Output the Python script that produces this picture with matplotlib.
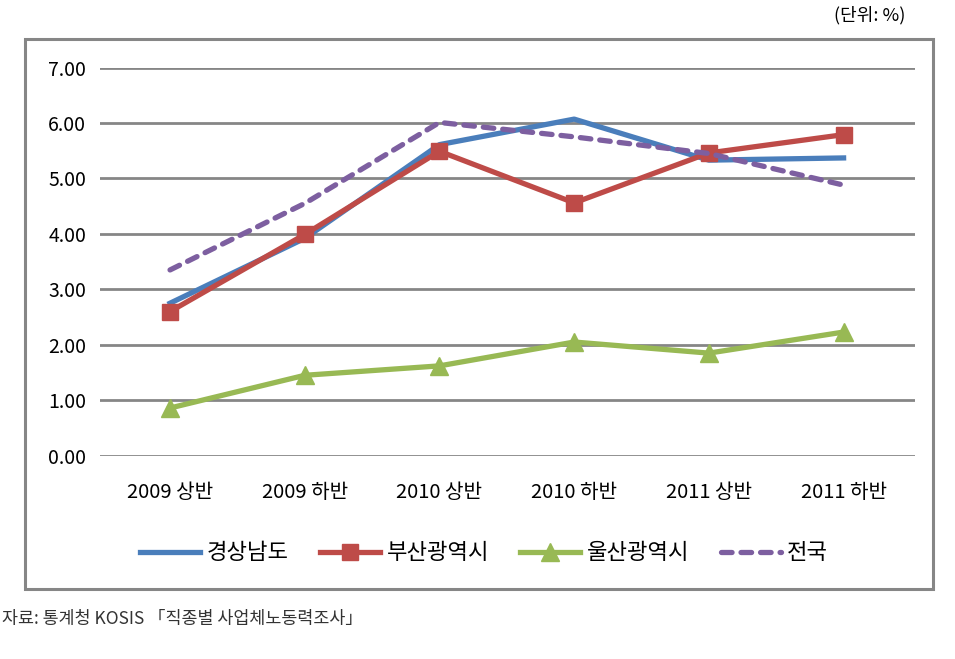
import matplotlib
matplotlib.use("Agg")
import matplotlib.pyplot as plt
from matplotlib.patches import Rectangle

plt.rcParams['font.family'] = ['Noto Sans CJK KR', 'DejaVu Sans']

# data
periods = ['2009 상반', '2009 하반', '2010 상반', '2010 하반', '2011 상반', '2011 하반']
gyeongnam = [2.75, 3.92, 5.61, 6.07, 5.33, 5.37]
busan = [2.60, 3.99, 5.49, 4.56, 5.46, 5.79]
ulsan = [0.86, 1.45, 1.62, 2.05, 1.85, 2.23]
national = [3.35, 4.55, 6.01, 5.75, 5.45, 4.88]
yticks = [0, 1, 2, 3, 4, 5, 6, 7]

fig = plt.figure(figsize=(9.55, 6.59), dpi=100)
ax = fig.add_axes([0.1047, 0.3085, 0.8534, 0.589])

x = range(len(periods))
lw = 3.8
ax.plot(x, gyeongnam, color='#4A7EBB', lw=lw, label='경상남도', zorder=3)
ax.plot(x, busan, color='#BE4B48', lw=lw, marker='s', markersize=12,
        label='부산광역시', zorder=4)
ax.plot(x, ulsan, color='#98B954', lw=lw, marker='^', markersize=13,
        label='울산광역시', zorder=3)
ax.plot(x, national, color='#7D5FA0', lw=lw, linestyle=(0, (2.0, 1.7)),
        dash_capstyle='round', label='전국', zorder=5)

ax.set_xlim(-0.52, 5.53)
ax.set_ylim(0, 7)
ax.set_yticks(yticks)
ax.set_yticklabels(['%.2f' % v for v in yticks], fontsize=14)
ax.set_xticks(list(x))
ax.set_xticklabels(periods, fontsize=14.5)
ax.tick_params(length=0, pad=10)
ax.tick_params(axis='x', pad=19)
ax.grid(axis='y', color='#868686', lw=2)
ax.set_axisbelow(True)
for s in ax.spines.values():
    s.set_visible(False)

fig.legend(loc='center', bbox_to_anchor=(0.507, 0.161), ncol=4, frameon=False,
           fontsize=16, handlelength=2.7, columnspacing=1.4, handletextpad=0.3,
           numpoints=1)

# outer frame
fig.patches.append(Rectangle((25 / 955, 1 - 589 / 659), 908 / 955, 550 / 659,
                             transform=fig.transFigure, fill=False,
                             edgecolor='#868686', lw=2.2))

fig.text(905 / 955, 1 - 15 / 659, '(단위: %)', ha='right', va='center', fontsize=13)
fig.text(2 / 955, 1 - 619 / 659, '자료: 통계청 KOSIS 「직종별 사업체노동력조사」',
         ha='left', va='center', fontsize=12.5, color='#333333')

fig.savefig('out.png', dpi=100)
